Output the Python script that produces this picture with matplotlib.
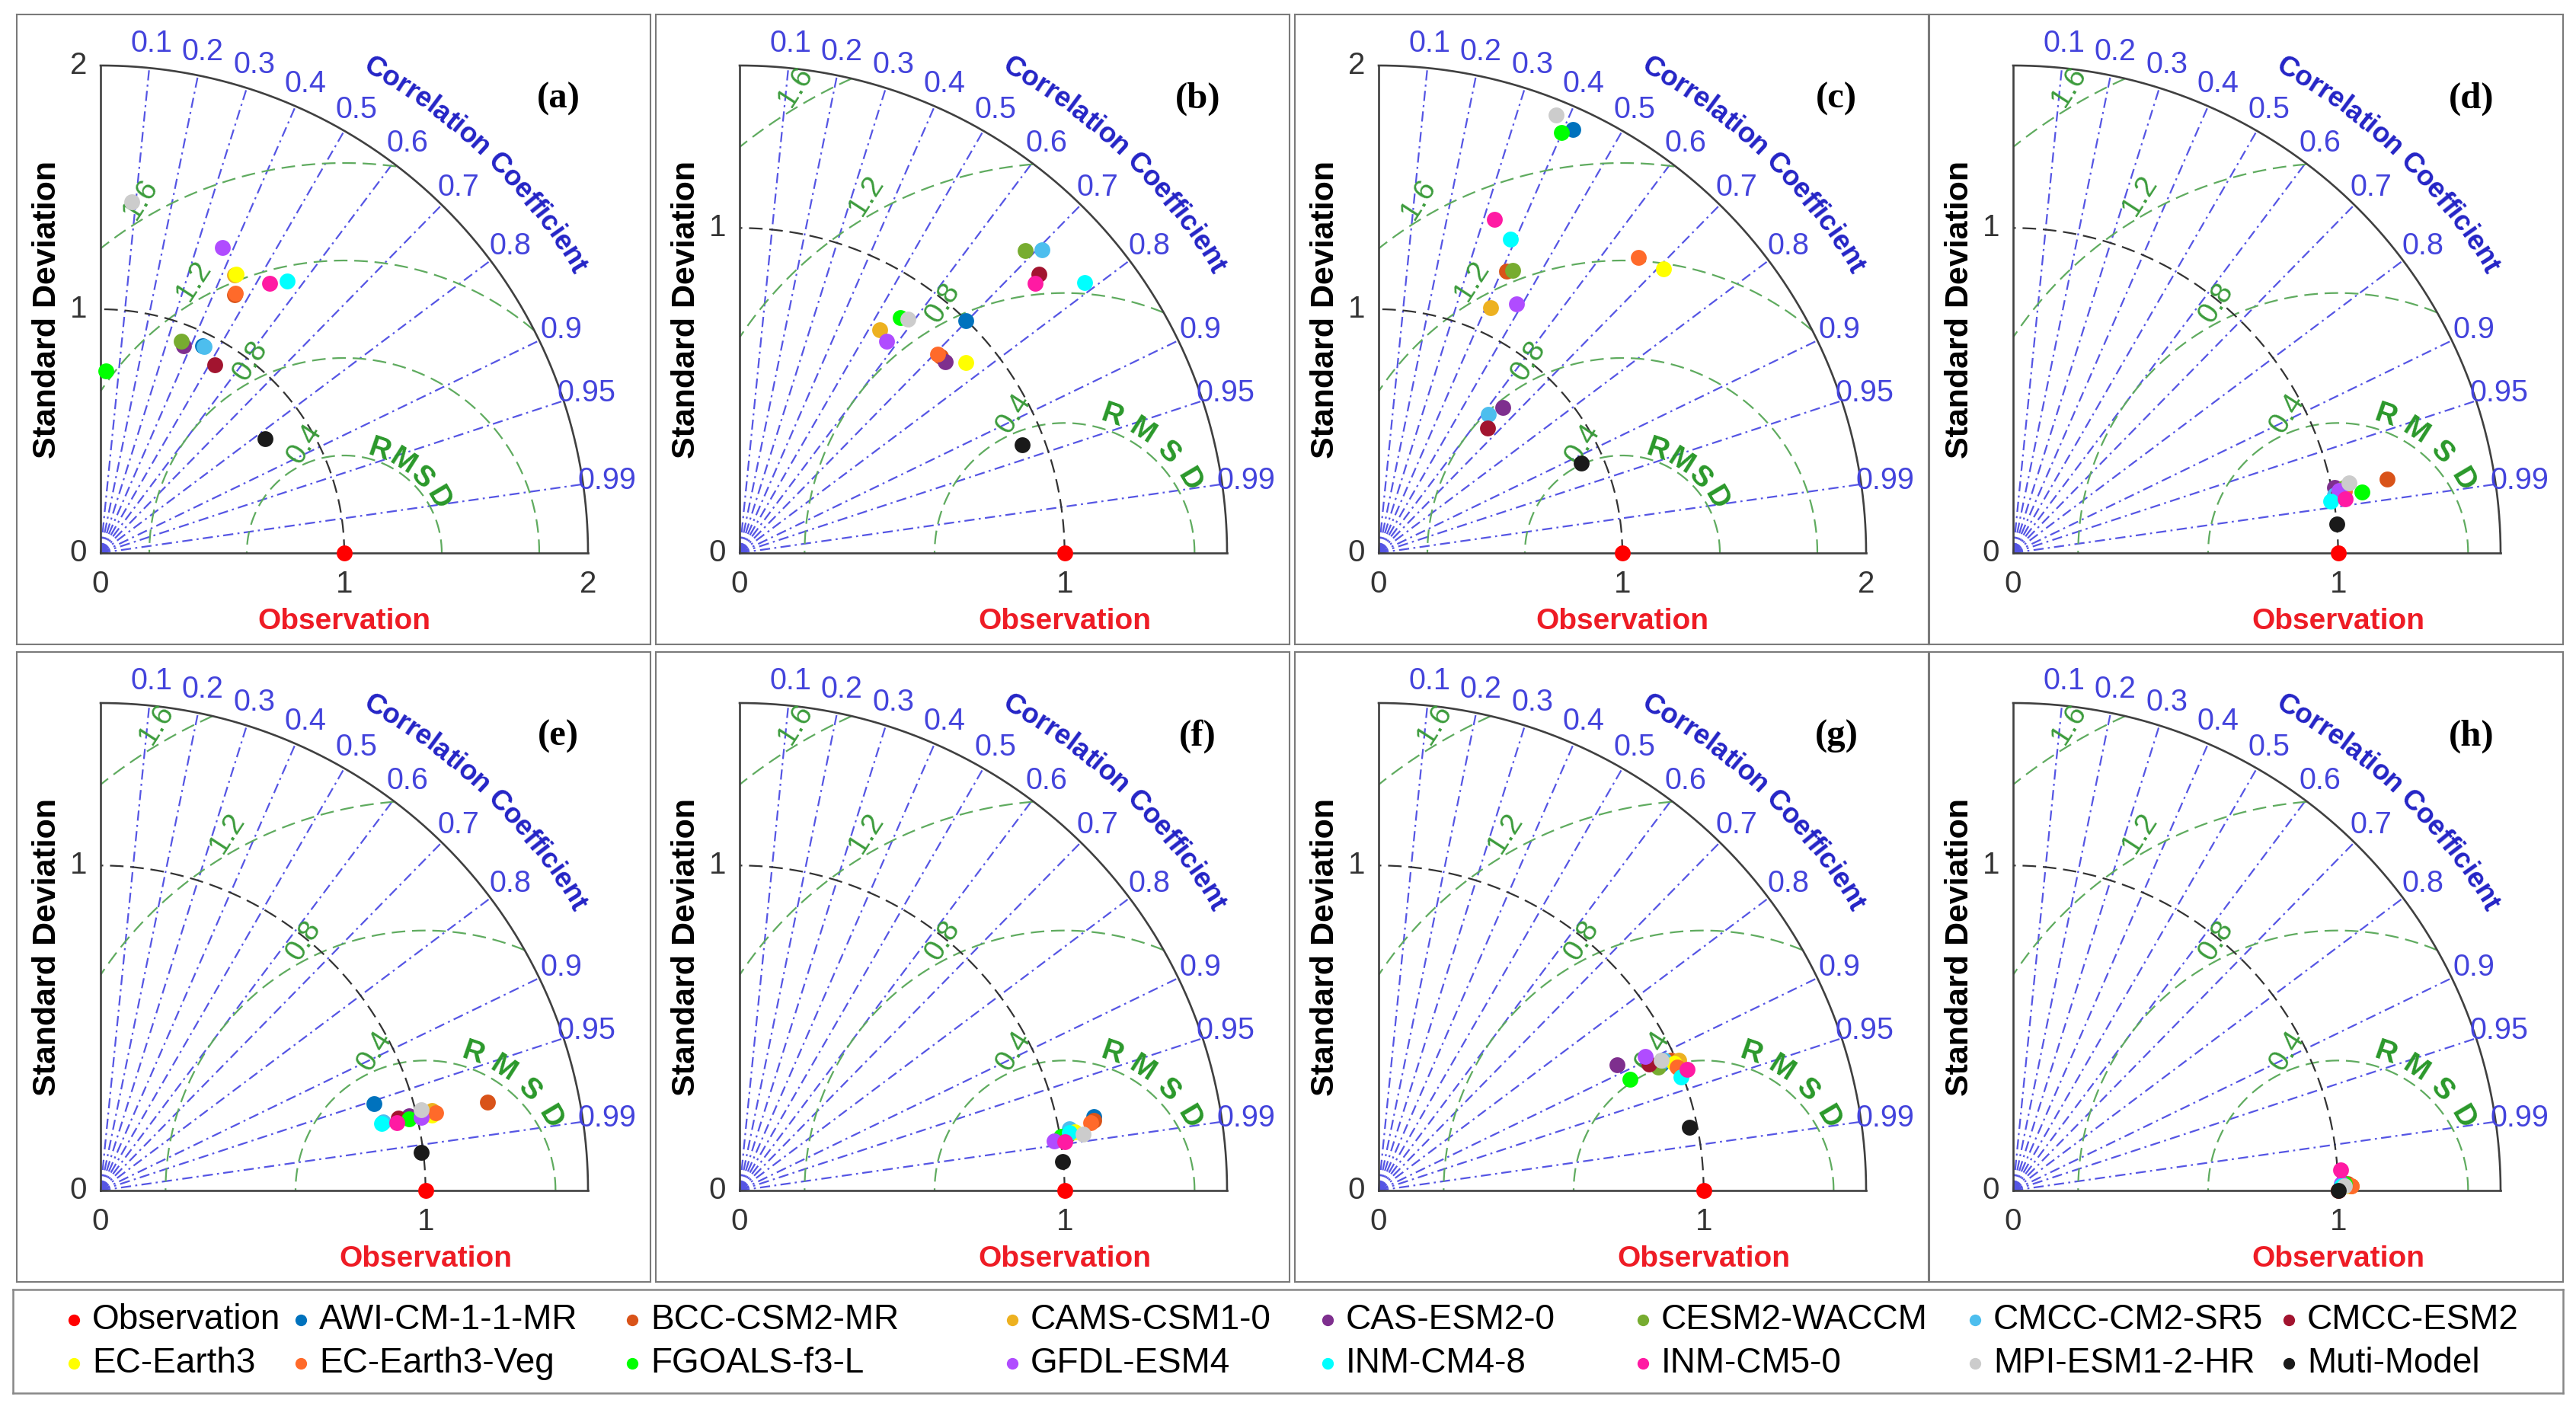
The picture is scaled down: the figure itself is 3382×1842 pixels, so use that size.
import numpy as np
import matplotlib
matplotlib.use('Agg')
import matplotlib.pyplot as plt
from matplotlib.font_manager import FontProperties, findfont, get_font

plt.rcParams['font.family'] = ['Liberation Sans', 'DejaVu Sans']

# model names and colours (legend order, row by row)
models = ['AWI-CM-1-1-MR', 'BCC-CSM2-MR', 'CAMS-CSM1-0', 'CAS-ESM2-0', 'CESM2-WACCM',
          'CMCC-CM2-SR5', 'CMCC-ESM2', 'EC-Earth3', 'EC-Earth3-Veg', 'FGOALS-f3-L',
          'GFDL-ESM4', 'INM-CM4-8', 'INM-CM5-0', 'MPI-ESM1-2-HR', 'Muti-Model']
colors = ['#0072BD', '#D95319', '#EDB120', '#7E2F8E', '#77AC30',
          '#4DBEEE', '#A2142F', '#FFFF00', '#FF6A2A', '#00FF00',
          '#B04CFF', '#00FFFF', '#FF1AA3', '#CCCCCC', '#1A1A1A']
obs_color = '#FF0000'

panel_tags = ['(a)', '(b)', '(c)', '(d)', '(e)', '(f)', '(g)', '(h)']
panel_rmax = [2.0, 1.5, 2.0, 1.5, 1.5, 1.5, 1.5, 1.5]

# normalised standard deviation and correlation of each model, per panel
std_a = [0.948, 1.194, 1.266, 0.915, 0.930, 0.949, 0.903, 1.273, 1.200, 0.746, 1.348, 1.354, 1.306, 1.446, 0.822]
cor_a = [0.443, 0.461, 0.434, 0.372, 0.355, 0.449, 0.518, 0.4375, 0.462, 0.029, 0.371, 0.566, 0.531, 0.0885, 0.822]
std_b = [0.998, 0.865, 0.810, 0.865, 1.280, 1.317, 1.259, 0.910, 0.864, 0.877, 0.794, 1.350, 1.230, 0.887, 0.931]
cor_b = [0.697, 0.714, 0.531, 0.732, 0.687, 0.706, 0.732, 0.765, 0.706, 0.565, 0.571, 0.787, 0.739, 0.585, 0.934]
std_c = [1.911, 1.270, 1.107, 0.784, 1.285, 0.724, 0.679, 1.651, 1.613, 1.881, 1.166, 1.397, 1.449, 1.939, 0.909]
cor_c = [0.417, 0.413, 0.414, 0.648, 0.429, 0.620, 0.657, 0.708, 0.660, 0.399, 0.484, 0.388, 0.328, 0.376, 0.914]
std_d = [1.018, 1.174, 1.026, 1.010, 1.039, 1.006, 1.016, 1.028, 1.038, 1.089, 1.021, 0.990, 1.035, 1.056, 1.000]
cor_d = [0.982, 0.981, 0.984, 0.980, 0.981, 0.984, 0.984, 0.983, 0.983, 0.985, 0.982, 0.987, 0.987, 0.979, 0.996]
std_e = [0.883, 1.220, 1.048, 0.977, 1.019, 0.895, 0.944, 1.046, 1.058, 0.975, 1.012, 0.890, 0.936, 1.018, 0.994]
cor_e = [0.953, 0.975, 0.972, 0.972, 0.972, 0.972, 0.972, 0.975, 0.974, 0.974, 0.975, 0.973, 0.975, 0.970, 0.993]
std_f = [1.113, 1.111, 1.014, 1.003, 1.024, 1.033, 1.013, 1.046, 1.100, 1.004, 0.980, 1.030, 1.011, 1.072, 0.997]
cor_f = [0.979, 0.981, 0.986, 0.987, 0.986, 0.983, 0.987, 0.985, 0.982, 0.986, 0.988, 0.985, 0.989, 0.987, 0.996]
std_g = [0.953, 0.985, 1.007, 0.830, 0.940, 0.967, 0.919, 0.990, 0.995, 0.846, 0.919, 0.994, 1.020, 0.958, 0.975]
cor_g = [0.913, 0.914, 0.917, 0.885, 0.915, 0.910, 0.906, 0.919, 0.924, 0.914, 0.893, 0.936, 0.931, 0.908, 0.980]
std_h = [1.015, 1.030, 1.040, 1.020, 1.020, 1.010, 1.020, 1.030, 1.040, 1.020, 1.010, 1.010, 1.011, 1.020, 1.000]
cor_h = [0.9999, 0.9998, 0.9999, 0.9998, 0.9999, 0.9999, 0.9999, 0.9999, 0.9999, 0.9998, 0.9998, 0.9999, 0.998, 0.9999, 1.0]

panel_std = [std_a, std_b, std_c, std_d, std_e, std_f, std_g, std_h]
panel_cor = [cor_a, cor_b, cor_c, cor_d, cor_e, cor_f, cor_g, cor_h]

corr_ticks = [0.1, 0.2, 0.3, 0.4, 0.5, 0.6, 0.7, 0.8, 0.9, 0.95, 0.99]
corr_labels = ['0.1', '0.2', '0.3', '0.4', '0.5', '0.6', '0.7', '0.8', '0.9', '0.95', '0.99']
rms_ticks = [0.4, 0.8, 1.2, 1.6]
rms_labels = ['0.4', '0.8', '1.2', '1.6']

W, H = 3382, 1842
fig = plt.figure(figsize=(W / 100, H / 100), dpi=100)

col_left = [22, 861, 1700, 2533]
row_top = [19, 856]
pw, ph = 832, 827
ox, oy = 110, 120      # origin offset inside panel (px)
rpx = 640              # outer arc radius (px)

blue_line = '#5555e4'
blue_txt = '#4343dc'
green_line = '#5fab5f'
green_txt = '#3c9c3c'

# per-character advances for the curved title
cc_text = 'Correlation Coefficient'
cc_size = 26.5
cc_prop = FontProperties(family='Liberation Sans', weight='bold', size=cc_size)
ft = get_font(findfont(cc_prop))
ft.set_size(cc_size, 100)
cc_adv = [ft.load_char(ord(ch)).linearHoriAdvance / 65536.0 for ch in cc_text]

th = np.linspace(0, np.pi / 2, 400)

for k in range(8):
    rmax = panel_rmax[k]
    s = rmax / rpx
    L = col_left[k % 4]
    T = row_top[k // 4]
    ax = fig.add_axes([L / W, (H - T - ph) / H, pw / W, ph / H])
    ax.set_xlim(-ox * s, (pw - ox) * s)
    ax.set_ylim(-oy * s, (ph - oy) * s)
    ax.set_xticks([])
    ax.set_yticks([])
    for sp in ax.spines.values():
        sp.set_color('#7a7a7a')
        sp.set_linewidth(1.5)

    # correlation rays
    for c, lab in zip(corr_ticks, corr_labels):
        a = np.arccos(c)
        ax.plot([0, rmax * np.cos(a)], [0, rmax * np.sin(a)], color=blue_line,
                lw=1.6, ls=(0, (6, 2.5, 1.2, 2.5)))
        rl = rmax + 32 * s
        ax.text(rl * np.cos(a), rl * np.sin(a), lab, color=blue_txt, fontsize=28.5,
                ha='center', va='center')

    # rms circles around the observation
    phi = np.linspace(0, np.pi, 600)
    for r in rms_ticks:
        x = 1 + r * np.cos(phi)
        y = r * np.sin(phi)
        m = (x >= 0) & (x ** 2 + y ** 2 <= rmax ** 2)
        x = np.where(m, x, np.nan)
        y = np.where(m, y, np.nan)
        ax.plot(x, y, color=green_line, lw=1.6, ls=(0, (8, 4)))
    for r, lab, ang in zip(rms_ticks, rms_labels, [110, 116, 119, 120]):
        rr = r + 24 * s
        ax.text(1 + rr * np.cos(np.radians(ang)), rr * np.sin(np.radians(ang)), lab,
                color=green_txt, fontsize=28, rotation=57, ha='center', va='center',
                rotation_mode='anchor')
    for ch, ang in zip('RMSD', [71, 57.5, 44, 30.5]):
        ax.text(1 + 0.445 * np.cos(np.radians(ang)), 0.445 * np.sin(np.radians(ang)), ch,
                color='#2a982a', fontsize=28, fontweight='bold', rotation=ang - 90,
                ha='center', va='center', rotation_mode='anchor')

    # reference std arc
    ax.plot(np.cos(th), np.sin(th), color='#333333', lw=1.6, ls=(0, (8, 4)))

    # frame of the diagram
    ax.plot(rmax * np.cos(th), rmax * np.sin(th), color='#404040', lw=1.9)
    ax.plot([0, rmax], [0, 0], color='#404040', lw=1.9)
    ax.plot([0, 0], [0, rmax], color='#404040', lw=1.9)

    # tick labels
    ticks = [0, 1, 2] if rmax >= 2 else [0, 1]
    for t in ticks:
        ax.text(t, -41 * s, str(t), fontsize=29, color='#333333', ha='center', va='center')
        ax.text(-18 * s, t, str(t), fontsize=29, color='#333333', ha='right', va='center')

    ax.text(-70 * s, rmax / 2, 'Standard Deviation', fontsize=31, fontweight='bold',
            rotation=90, ha='center', va='center')
    ax.text(1, -90 * s, 'Observation', fontsize=28, fontweight='bold', color='#EE1C25',
            ha='center', va='center')
    ax.text(0.855, 0.866, panel_tags[k], transform=ax.transAxes, fontsize=35,
            fontweight='bold', family='Liberation Serif', ha='center', va='center')

    # curved "Correlation Coefficient"
    rc = 730
    pos = 0.0
    a0 = np.radians(60.5)
    for ch, adv in zip(cc_text, cc_adv):
        mid = pos + adv / 2 - cc_adv[0] / 2
        a = a0 - mid / rc
        pos += adv
        if ch == ' ':
            continue
        ax.text(rc * s * np.cos(a), rc * s * np.sin(a), ch, fontproperties=cc_prop,
                color='#2424c6', rotation=np.degrees(a) - 90, ha='center', va='center',
                rotation_mode='anchor')

    # points
    ax.plot(1, 0, 'o', color=obs_color, ms=15, mec='none', clip_on=False, zorder=5)
    sd = np.array(panel_std[k])
    cr = np.array(panel_cor[k])
    ang = np.arccos(np.clip(cr, -1, 1))
    for i in range(len(models)):
        ax.plot(sd[i] * np.cos(ang[i]), sd[i] * np.sin(ang[i]), 'o', color=colors[i],
                ms=15, mec='none', zorder=5)

# legend box drawn by hand, two rows of eight
lx0, lx1, ly0, ly1 = 17, 3365, 1693, 1829
lax = fig.add_axes([lx0 / W, 1 - ly1 / H, (lx1 - lx0) / W, (ly1 - ly0) / H])
lax.set_xlim(lx0, lx1)
lax.set_ylim(ly1, ly0)
lax.set_xticks([])
lax.set_yticks([])
for sp in lax.spines.values():
    sp.set_color('#888888')
    sp.set_linewidth(1.8)

all_labels = ['Observation'] + models
all_colors = [obs_color] + colors
col_x = [97, 395, 830, 1329, 1743, 2157, 2593, 3005]
row_y = [1733, 1790]
for i, (lab, c) in enumerate(zip(all_labels, all_colors)):
    cx = col_x[i % 8]
    cy = row_y[i // 8]
    lax.plot(cx, cy, 'o', color=c, ms=11, mec='none')
    lax.text(cx + 24, cy, lab, fontsize=33, ha='left', va='center')

plt.savefig('out.png', dpi=100)
